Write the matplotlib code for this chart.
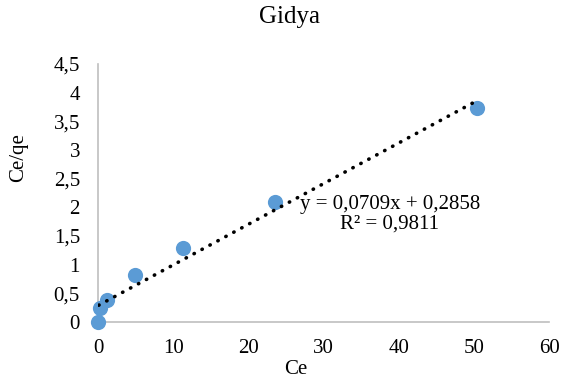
import matplotlib.pyplot as plt
from matplotlib.ticker import FuncFormatter, MultipleLocator

plt.rcParams['font.family'] = ['Liberation Serif', 'DejaVu Serif']

ce = [0.0, 0.27, 1.15, 4.9, 11.3, 23.6, 50.4]
ce_qe = [0.0, 0.24, 0.38, 0.82, 1.29, 2.09, 3.73]
slope = 0.0709
intercept = 0.2858

W, H = 565, 383
fig = plt.figure(figsize=(5.65, 3.83), dpi=100)
ax = fig.add_axes([98 / W, 1 - 322 / H, 451 / W, 258 / H])

ax.scatter(ce, ce_qe, s=120, color='#5B9BD5', zorder=3, linewidths=0, clip_on=False)
xs = [0.1, 50.4]
ax.plot(xs, [slope * x + intercept for x in xs], color='black', linestyle=(0, (0.1, 2.4)),
        linewidth=2.6, dash_capstyle='round', zorder=4)

ax.set_xlim(0, 60)
ax.set_ylim(0, 4.5)
ax.xaxis.set_major_locator(MultipleLocator(10))
ax.yaxis.set_major_locator(MultipleLocator(0.5))
comma = FuncFormatter(lambda v, p: ('%g' % v).replace('.', ','))
ax.xaxis.set_major_formatter(comma)
ax.yaxis.set_major_formatter(comma)

for s in ['top', 'right']:
    ax.spines[s].set_visible(False)
for s in ['left', 'bottom']:
    ax.spines[s].set_color('#BFBFBF')
    ax.spines[s].set_linewidth(1.2)
ax.tick_params(length=0, labelsize=15)
ax.tick_params(axis='x', pad=12)
ax.tick_params(axis='y', pad=13)

ax.text(38.8, 1.876, 'y = 0,0709x + 0,2858\nR² = 0,9811', ha='center', va='center',
        fontsize=15, linespacing=1.05)

fig.text(289.5 / W, 1 - 17.5 / H, 'Gidya', ha='center', va='center', fontsize=18)
fig.text(296 / W, 1 - 370 / H, 'Ce', ha='center', va='center', fontsize=15)
fig.text(18.5 / W, 1 - 158 / H, 'Ce/qe', ha='center', va='center', fontsize=15, rotation=90)

plt.savefig('out.png', dpi=100)
